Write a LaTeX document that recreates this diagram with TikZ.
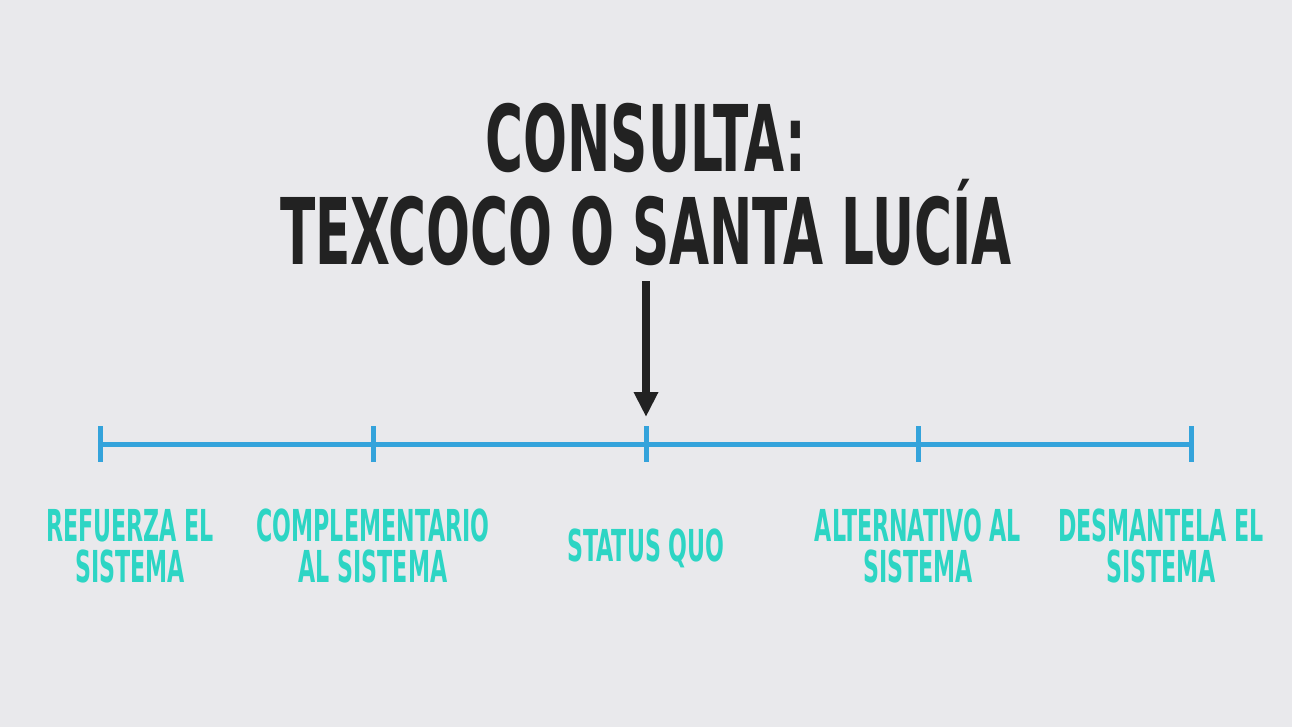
\documentclass[tikz,border=0pt]{standalone}
\usepackage{fontspec}
\usetikzlibrary{arrows.meta}
\newfontfamily\headfont{DejaVu Sans Condensed}[FakeStretch=0.625]
\newfontfamily\optfont{DejaVu Sans Condensed}[FakeStretch=0.56]
\definecolor{bgcol}{HTML}{E9E9EC}
\definecolor{inkcol}{HTML}{222222}
\definecolor{axiscol}{HTML}{34A3DB}
\definecolor{labelcol}{HTML}{2DD5C4}
\tikzset{
  titletext/.style={inner sep=0pt, align=center, text=inkcol, anchor=base,
    font=\headfont\bfseries\fontsize{92}{93}\selectfont},
  optiontext/.style={inner sep=0pt, align=center, text=labelcol, anchor=base,
    font=\optfont\bfseries\fontsize{44}{41}\selectfont},
  axisline/.style={draw=axiscol, line width=5pt},
}
\begin{document}
\begin{tikzpicture}[x=1pt, y=-1pt]
    \fill[bgcol] (0,0) rectangle (1292,727);
    \useasboundingbox (0,0) rectangle (1292,727);

    % title
    \node[titletext] (title) at (646,265) {CONSULTA:\\TEXCOCO O SANTA LUCÍA};

    % axis with five ticks
    \foreach \i/\x in {1/100,2/373,3/646,4/918,5/1191}{
        \coordinate (t\i) at (\x,444);
        \draw[axisline] (\x,426) -- (\x,462);
    }
    \draw[axisline] (t1) -- (t5);

    % arrow pointing at status quo
    \coordinate (arrowtop) at (646,281);
    \coordinate (arrowtip) at (646,417);
    \draw[inkcol, line width=8pt, -{Triangle[width=23pt,length=25pt]}] (arrowtop) -- (arrowtip);

    % options
    \node[optiontext] (refuerza) at (130,582) {REFUERZA EL\\SISTEMA};
    \node[optiontext] (complementario) at (373,582) {COMPLEMENTARIO\\AL SISTEMA};
    \node[optiontext] (statusquo) at (646,561) {STATUS QUO};
    \node[optiontext] (alternativo) at (918,582) {ALTERNATIVO AL\\SISTEMA};
    \node[optiontext] (desmantela) at (1161,582) {DESMANTELA EL\\SISTEMA};
\end{tikzpicture}
\end{document}
